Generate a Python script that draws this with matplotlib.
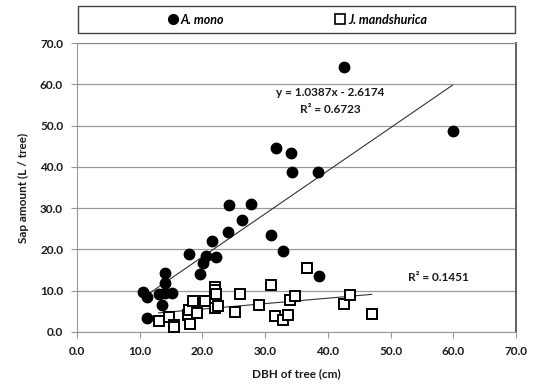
import numpy as np
import matplotlib.pyplot as plt
from matplotlib.patches import Rectangle
from matplotlib.lines import Line2D

# A. mono (filled circles)
mono_dbh = [10.6, 11.1, 11.1, 13.1, 13.5, 14.0, 14.0, 14.0, 15.1, 17.8, 19.6, 20.1, 20.5, 21.5,
            22.1, 24.1, 24.2, 26.3, 27.8, 31.0, 31.7, 32.8, 34.1, 34.3, 38.5, 38.6, 42.5, 59.9]
mono_sap = [9.8, 8.4, 3.5, 9.2, 6.6, 14.4, 11.8, 9.4, 9.4, 18.9, 14.1, 16.7, 18.4, 22.1,
            18.2, 24.2, 30.7, 27.1, 31.1, 23.5, 44.6, 19.6, 43.4, 38.7, 38.8, 13.6, 64.2, 48.6]

# J. mandshurica (open squares)
jm_dbh = [13.0, 14.7, 15.5, 15.5, 17.7, 17.8, 18.0, 18.5, 19.1, 20.4, 22.0, 22.0, 22.1, 22.0,
          22.5, 25.2, 26.0, 29.0, 31.0, 31.6, 32.8, 33.7, 34.0, 34.7, 36.6, 42.6, 43.6, 47.0]
jm_sap = [2.7, 3.7, 1.7, 1.2, 4.1, 5.3, 2.0, 7.4, 4.5, 7.5, 11.0, 10.2, 9.2, 5.7,
          6.3, 4.9, 9.2, 6.5, 11.4, 3.9, 2.9, 4.1, 7.8, 8.7, 15.6, 6.8, 9.0, 4.4]

eq_text = 'y = 1.0387x - 2.6174'
r2_mono = 'R² = 0.6723'
r2_jm = 'R² = 0.1451'

txt = '#1a1a1a'
plt.rcParams['font.family'] = ['Lato', 'DejaVu Sans']

fig = plt.figure(figsize=(5.34, 3.89), dpi=100)
ax = fig.add_axes([77/534, 1-332/389, (516-77)/534, (332-43)/389])

ax.plot(mono_dbh, mono_sap, 'o', color='black', ms=7.5, zorder=3)
ax.plot(jm_dbh, jm_sap, 's', mfc='white', mec='black', mew=1.4, ms=7.5, zorder=3)

# linear trendlines
for xs, ys in [(mono_dbh, mono_sap), (jm_dbh, jm_sap)]:
    k, b = np.polyfit(xs, ys, 1)
    xx = np.array([min(xs), max(xs)])
    ax.plot(xx, k*xx + b, color='#333333', lw=0.8, zorder=2)

ax.text(40.4, 58.0, eq_text, ha='center', va='center', fontsize=8.5, fontweight='bold', color=txt)
ax.text(40.4, 53.9, r2_mono, ha='center', va='center', fontsize=8.5, fontweight='bold', color=txt)
ax.text(57.6, 13.1, r2_jm, ha='center', va='center', fontsize=8.5, fontweight='bold', color=txt)

ax.set_xlim(0, 70)
ax.set_ylim(0, 70)
ax.set_xticks(np.arange(0, 71, 10))
ax.set_yticks(np.arange(0, 71, 10))
ax.set_xticklabels(['%.1f' % v for v in np.arange(0, 71, 10)])
ax.set_yticklabels(['%.1f' % v for v in np.arange(0, 71, 10)])
ax.tick_params(direction='out', length=4, color='#999999', labelsize=8.5, labelcolor=txt, pad=6)
for lab in ax.get_xticklabels() + ax.get_yticklabels():
    lab.set_fontweight('bold')
ax.grid(axis='y', color='#999999', lw=0.9)
ax.set_axisbelow(True)
ax.spines['left'].set_color('#999999')
ax.spines['bottom'].set_color('#999999')
ax.spines['top'].set_color('#888888')
ax.spines['right'].set_color('#555555')
ax.spines['right'].set_linewidth(1.3)

ax.set_xlabel('DBH of tree (cm)', fontsize=8.5, fontweight='bold', color=txt, labelpad=8)
ax.set_ylabel('Sap amount (L / tree)', fontsize=8.5, fontweight='bold', color=txt, labelpad=8)

# legend box across the top
fig.patches.append(Rectangle((78/534, 1-33/389), (515-78)/534, 27/389, transform=fig.transFigure,
                             fill=False, ec='#444444', lw=1.0))
handles = [Line2D([], [], ls='none', marker='o', color='black', ms=7),
           Line2D([], [], ls='none', marker='s', mfc='white', mec='black', mew=1.2, ms=7)]
fig.legend(handles, ['A. mono', 'J. mandshurica'], loc='center', ncol=2,
           bbox_to_anchor=(298/534, 1-19.5/389), frameon=False, handlelength=0.6,
           handletextpad=0.3, columnspacing=9.0,
           prop={'size': 9, 'style': 'italic', 'weight': 'bold'})

fig.savefig('out.png', dpi=100)
